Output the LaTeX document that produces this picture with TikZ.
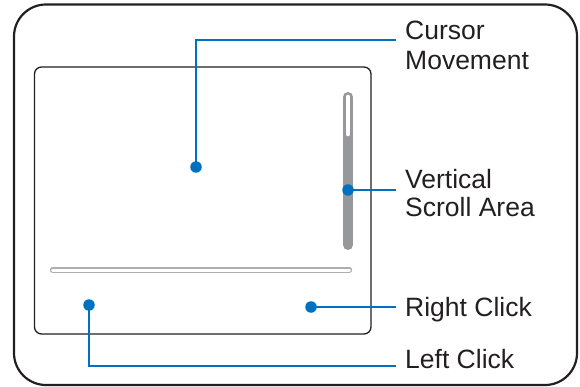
\documentclass[tikz,border=0pt]{standalone}
\usepackage{fontspec}
\setmainfont{Liberation Sans}
\definecolor{lblue}{RGB}{0,112,192}
\definecolor{frame}{RGB}{35,31,32}
\definecolor{barg}{RGB}{150,152,156}
\definecolor{lineg}{RGB}{175,175,178}
\begin{document}
\begin{tikzpicture}[x=1pt,y=-1pt,
  lbl/.style={inner sep=0pt, anchor=base west, font=\fontsize{26.5}{30}\selectfont, text=frame},
  dot/.style={circle, fill=lblue, minimum size=11.5pt, inner sep=0pt},
  lead/.style={draw=lblue, line width=2pt}]
\useasboundingbox (0,0) rectangle (580,387);
% outer frame
\draw[frame, line width=2.2pt, rounded corners=32pt] (14,4.5) rectangle (577,385);
% inner pad
\draw[frame, line width=1.3pt, rounded corners=7pt] (34.5,67) rectangle (371,334);
% vertical scroll bar
\draw[barg, line width=10pt, line cap=round] (348,97) -- (348,245);
\draw[white, line width=4.6pt, line cap=round] (348,97) -- (348,134);
% horizontal separator
\draw[lineg, line width=5.4pt, line cap=round] (52.5,270) -- (349.5,270);
\draw[white, line width=3pt, line cap=round] (52.5,270) -- (349.5,270);
% dots
\node[dot] (dcur) at (196,167) {};
\node[dot] (dscr) at (348,190) {};
\node[dot] (drc) at (311,307) {};
\node[dot] (dlc) at (89,305) {};
% labels
\node[lbl] (tcur) at (405,39.3) {Cursor};
\node[lbl] (tmov) at (405,69.3) {Movement};
\node[lbl] (tver) at (405,188.3) {Vertical};
\node[lbl] (tsca) at (405,216.5) {Scroll Area};
\node[lbl] (trc) at (405,316.7) {Right Click};
\node[lbl] (tlc) at (405,368.3) {Left Click};
% leader end points
\coordinate (ecur) at (396,40);
\coordinate (escr) at (396,190);
\coordinate (erc) at (396,307);
\coordinate (elc) at (396,366);
% leaders
\draw[lead] (dcur.center) |- (ecur);
\draw[lead] (dscr.center) -- (escr);
\draw[lead] (drc.center) -- (erc);
\draw[lead] (dlc.center) |- (elc);
\end{tikzpicture}
\end{document}
